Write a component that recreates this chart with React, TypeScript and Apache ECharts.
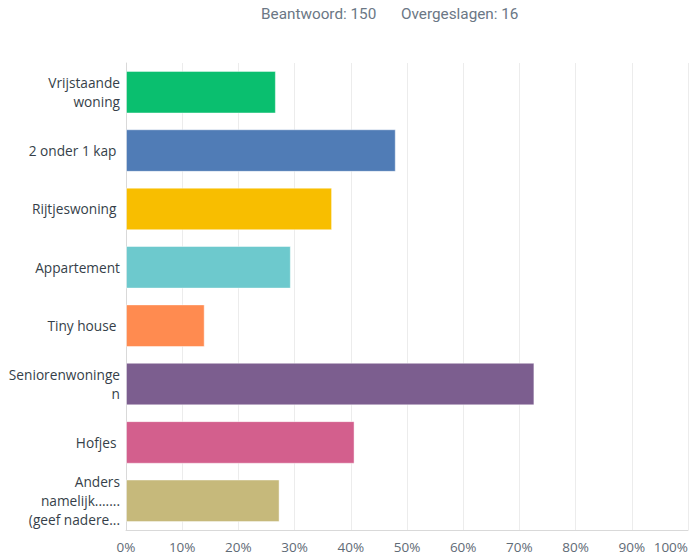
import React, { useEffect, useRef } from "react";
import * as echarts from "echarts";

const categories = [
  "Vrijstaande\nwoning",
  "2 onder 1 kap\u00a0",
  "Rijtjeswoning\u00a0",
  "Appartement",
  "Tiny house\u00a0",
  "Seniorenwoninge\nn",
  "Hofjes\u00a0",
  "Anders\nnamelijk.......\n(geef nadere...",
];
const values = [26.67, 48, 36.67, 29.33, 14, 72.67, 40.67, 27.33];
const barColors = ["#0abf6f", "#507cb6", "#f8be00", "#6dc9cd", "#ff8b50", "#7c5e8f", "#d35f8d", "#c6b97b"];
const answered = 150;
const skipped = 16;

export default function App() {
  const ref = useRef<HTMLDivElement>(null);
  useEffect(() => {
    if (!ref.current) return;
    const chart = echarts.init(ref.current, null, { renderer: "svg" });
    chart.setOption({
      animation: false,
      backgroundColor: "#ffffff",
      graphic: [
        {
          type: "text",
          left: 261,
          top: 6,
          style: { text: `Beantwoord: ${answered}`, fill: "#6b7785", font: "15.3px Roboto" },
        },
        {
          type: "text",
          left: 401,
          top: 6,
          style: { text: `Overgeslagen: ${skipped}`, fill: "#6b7785", font: "15.3px Roboto" },
        },
      ],
      grid: { left: 126, right: 12, top: 63, bottom: 27, containLabel: false },
      xAxis: {
        type: "value",
        min: 0,
        max: 100,
        interval: 10,
        axisLine: { show: true, lineStyle: { color: "#d9d9d9" } },
        axisTick: { show: false },
        splitLine: { show: true, lineStyle: { color: "#ececec", width: 1 } },
        axisLabel: {
          formatter: "{value}%",
          color: "#5f6b76",
          fontFamily: "Open Sans",
          fontSize: 13.5,
          margin: 10,
          alignMaxLabel: "right",
        },
      },
      yAxis: {
        type: "category",
        data: categories,
        inverse: true,
        axisLine: { show: true, lineStyle: { color: "#d9d9d9" } },
        axisTick: { show: false },
        axisLabel: {
          color: "#363f49",
          fontFamily: "Open Sans",
          fontSize: 13.7,
          lineHeight: 19,
          margin: 6,
          align: "right",
        },
      },
      series: [
        {
          type: "bar",
          data: values.map((v, i) => ({ value: v, itemStyle: { color: barColors[i] } })),
          barCategoryGap: "27%",
          itemStyle: { borderColor: "rgba(255,255,255,0.45)", borderWidth: 1 },
        },
      ],
    });
    return () => chart.dispose();
  }, []);
  return (
    <div
      ref={ref}
      style={{ position: "fixed", left: 0, top: 0, width: 700, height: 557 }}
    />
  );
}
